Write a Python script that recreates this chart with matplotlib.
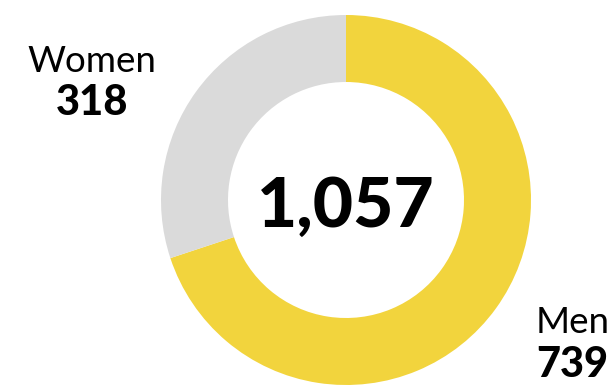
import matplotlib.pyplot as plt

# values
labels = ["Men", "Women"]
counts = [739, 318]
total = 1057
colors = ["#F2D43D", "#DADADA"]

fig = plt.figure(figsize=(6.16, 3.85), dpi=100)
ax = fig.add_axes([0, 0, 1, 1])

# donut, centre and radii in pixel units of the figure
ax.pie(counts, colors=colors, startangle=90, counterclock=False,
       center=(346, 185), radius=185,
       wedgeprops=dict(width=67, linewidth=0))
ax.set_xlim(0, 616)
ax.set_ylim(0, 385)
ax.set_aspect("equal")
ax.axis("off")

font = "Lato"
ax.text(346, 158, f"{total:,}", ha="center", va="baseline",
        fontsize=50, fontweight="black", family=font)

# Women label (left, centred)
ax.text(92, 313, labels[1], ha="center", va="baseline", fontsize=26.5, family=font)
ax.text(92, 270, str(counts[1]), ha="center", va="baseline",
        fontsize=30, fontweight="black", family=font)

# Men label (bottom right)
ax.text(536, 52, labels[0], ha="left", va="baseline", fontsize=26.5, family=font)
ax.text(536, 8, str(counts[0]), ha="left", va="baseline",
        fontsize=30, fontweight="black", family=font)

fig.savefig("out.png", dpi=100)
